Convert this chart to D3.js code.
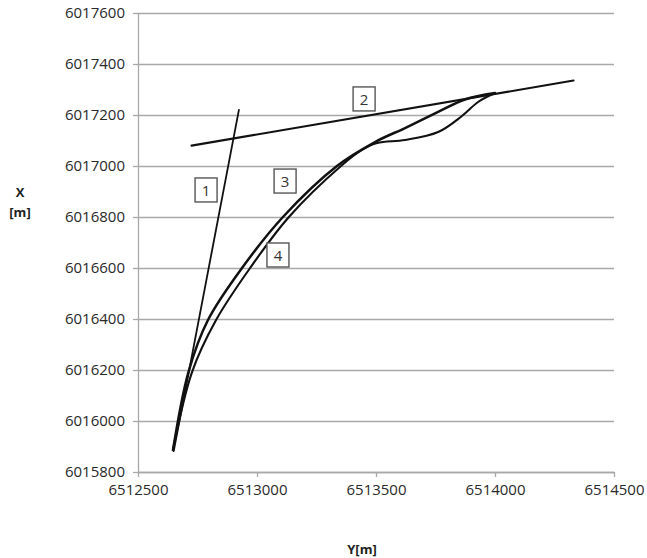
<!DOCTYPE html>
<html>
<head>
<meta charset="utf-8">
<script src="https://cdn.jsdelivr.net/npm/d3@7"></script>
<style>
  body { margin: 0; background: #fff; }
  svg text { font-family: "Open Sans", "Liberation Sans", sans-serif; }
</style>
</head>
<body>
<div id="chart"></div>
<script>
// Axis ticks
const xTicks = [6512500, 6513000, 6513500, 6514000, 6514500];
const yTicks = [6015800, 6016000, 6016200, 6016400, 6016600, 6016800, 6017000, 6017200, 6017400, 6017600];

// Line 1 (tangent at start) and line 2 (tangent at end)
const line1X = [6512650, 6512924];
const line1Y = [6015882, 6017220];
const line2X = [6512725, 6514330];
const line2Y = [6017080, 6017335];

// Curve 3 (outer / upper branch)
const curve3X = [6512647, 6512712, 6512794, 6512937, 6513109, 6513336, 6513496, 6513622, 6513761, 6513874, 6514000];
const curve3Y = [6015886, 6016192, 6016396, 6016600, 6016800, 6017000, 6017094, 6017149, 6017212, 6017261, 6017286];

// Curve 4 (inner / lower branch with the wiggle)
const curve4X = [6512647, 6512727, 6512828, 6512971, 6513134, 6513353, 6513441, 6513505, 6513622, 6513761, 6513861, 6513929, 6514000];
const curve4Y = [6015886, 6016192, 6016396, 6016600, 6016800, 6017000, 6017063, 6017090, 6017102, 6017133, 6017196, 6017251, 6017286];

// Boxed labels
const labelText = ["1", "2", "3", "4"];
const labelX = [6512786, 6513450, 6513118, 6513088];
const labelY = [6016906, 6017263, 6016941, 6016651];

// Dimensions and margins
const W = 647, H = 558;
const margin = { top: 13, right: 33, bottom: 86, left: 138 };
const width = W - margin.left - margin.right;
const height = H - margin.top - margin.bottom;

const svg = d3.select("#chart")
    .append("svg")
    .attr("width", W)
    .attr("height", H);

const g = svg.append("g")
    .attr("transform", `translate(${margin.left},${margin.top})`);

// Scales
const x = d3.scaleLinear().domain([6512500, 6514500]).range([0, width]);
const y = d3.scaleLinear().domain([6015800, 6017600]).range([height, 0]);

const gridColour = "#a8a8a8";

// Horizontal gridlines
g.append("g")
    .attr("class", "grid")
    .call(d3.axisLeft(y).tickValues(yTicks).tickSize(-width).tickFormat(""))
    .call(s => s.select(".domain").remove())
    .call(s => s.selectAll("line").attr("stroke", gridColour).attr("stroke-width", 1.3));

// Y axis
g.append("g")
    .attr("class", "y-axis")
    .call(d3.axisLeft(y).tickValues(yTicks).tickSize(5).tickSizeOuter(0).tickPadding(8).tickFormat(d3.format("d")))
    .call(s => s.select(".domain").attr("stroke", gridColour).attr("stroke-width", 1.3))
    .call(s => s.selectAll("line").attr("stroke", gridColour).attr("stroke-width", 1.3))
    .call(s => s.selectAll("text").attr("fill", "#2a2a2a").style("font-size", "15px"));

// X axis
g.append("g")
    .attr("class", "x-axis")
    .attr("transform", `translate(0,${height})`)
    .call(d3.axisBottom(x).tickValues(xTicks).tickSize(5).tickSizeOuter(0).tickPadding(7).tickFormat(d3.format("d")))
    .call(s => s.select(".domain").attr("stroke", gridColour).attr("stroke-width", 1.3))
    .call(s => s.selectAll("line").attr("stroke", gridColour).attr("stroke-width", 1.3))
    .call(s => s.selectAll("text").attr("fill", "#2a2a2a").style("font-size", "15px"));

// Axis titles
const titleStyle = s => s
    .attr("text-anchor", "middle")
    .attr("dominant-baseline", "central")
    .style("font-size", "13px").style("font-weight", "bold").attr("fill", "#222");

svg.append("text").attr("x", 20).attr("y", 192).call(titleStyle).text("X");
svg.append("text").attr("x", 20).attr("y", 212).call(titleStyle).text("[m]");
svg.append("text").attr("x", 362).attr("y", 549).call(titleStyle).text("Y[m]");

// Lines and curves
const zip = (xs, ys) => xs.map((v, i) => [v, ys[i]]);

const straight = d3.line()
    .x(d => x(d[0]))
    .y(d => y(d[1]));

const smooth = d3.line()
    .x(d => x(d[0]))
    .y(d => y(d[1]))
    .curve(d3.curveCatmullRom.alpha(0.5));

const series = [
    { pts: zip(line1X, line1Y), gen: straight, w: 1.8 },
    { pts: zip(line2X, line2Y), gen: straight, w: 2.1 },
    { pts: zip(curve3X, curve3Y), gen: smooth, w: 2.5 },
    { pts: zip(curve4X, curve4Y), gen: smooth, w: 2.1 }
];

g.selectAll(".line")
    .data(series)
    .enter()
    .append("path")
    .attr("class", "line")
    .attr("d", d => d.gen(d.pts))
    .attr("fill", "none")
    .attr("stroke", "#111")
    .attr("stroke-width", d => d.w)
    .attr("stroke-linecap", "round");

// Boxed number labels
const labels = g.selectAll(".lbl")
    .data(labelText.map((t, i) => ({ t, x: labelX[i], y: labelY[i] })))
    .enter()
    .append("g")
    .attr("class", "lbl")
    .attr("transform", d => `translate(${x(d.x)},${y(d.y)})`);

labels.append("rect")
    .attr("x", -11).attr("y", -12)
    .attr("width", 22).attr("height", 24)
    .attr("fill", "#fff")
    .attr("stroke", "#555")
    .attr("stroke-width", 1.4);

labels.append("text")
    .attr("text-anchor", "middle")
    .attr("dominant-baseline", "central")
    .style("font-size", "15px")
    .attr("fill", "#333")
    .text(d => d.t);
</script>
</body>
</html>
